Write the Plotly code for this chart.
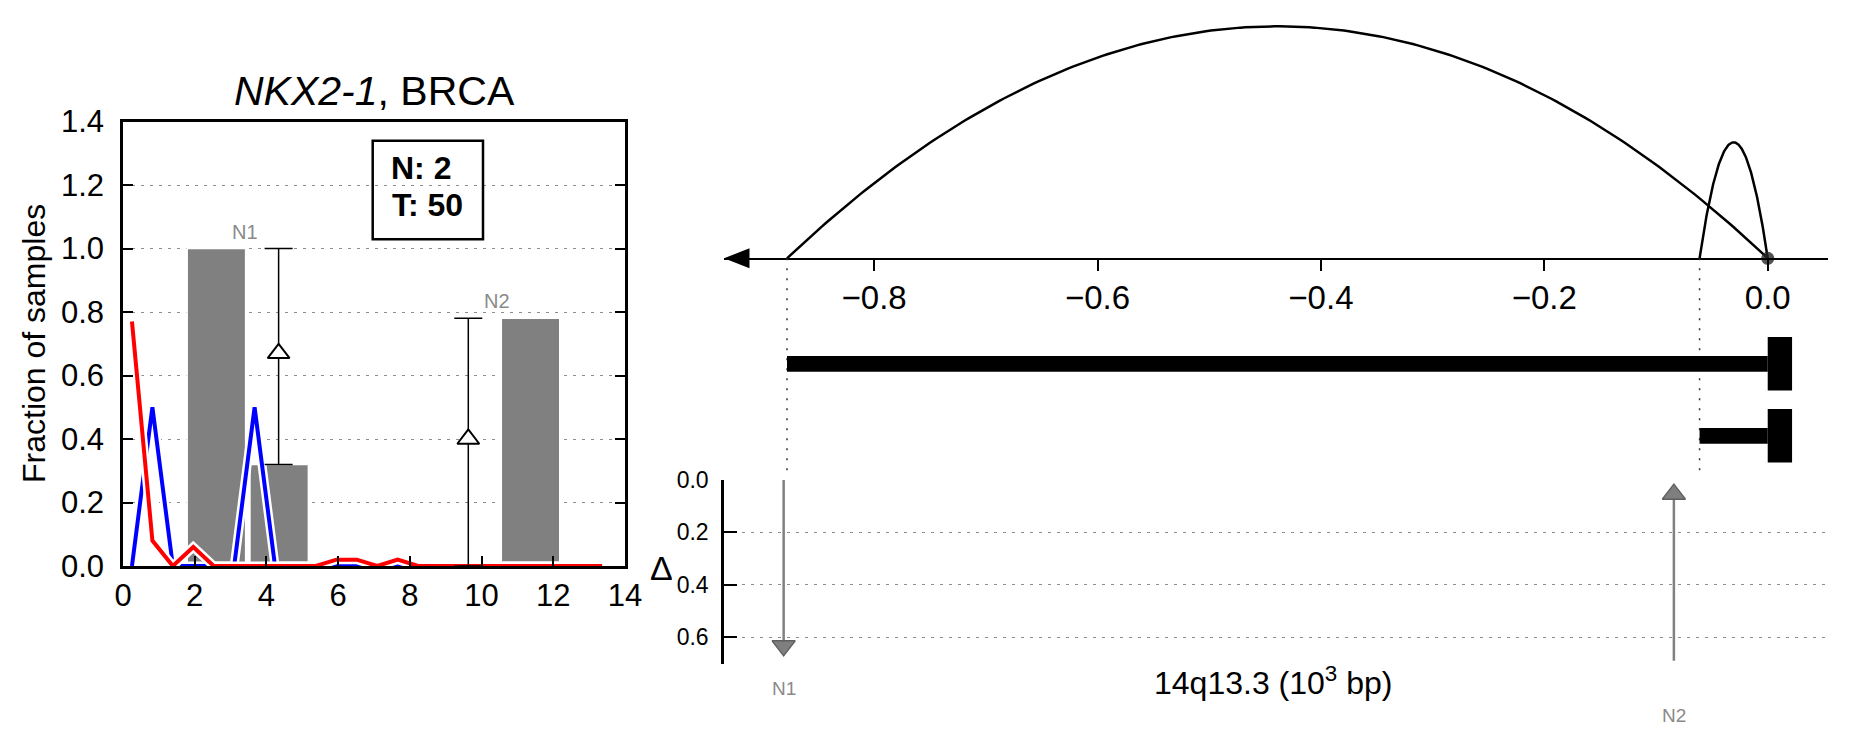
import numpy as np
import plotly.graph_objects as go

W, H = 1851, 745
FONT = "Liberation Sans, Arial, Helvetica, sans-serif"


def px(x):
    return x / W


def py(y):
    return 1 - y / H


# ---------------- data: left panel ----------------
bin_x = [0.25, 0.82, 1.39, 1.96, 2.53, 3.10, 3.67, 4.24, 4.81, 5.38, 5.95, 6.52,
         7.09, 7.66, 8.23, 8.80, 9.37, 9.94, 10.51, 11.08, 11.65, 12.22, 12.79, 13.36]
tumor_frac = [0.77, 0.08, 0.0, 0.06, 0.0, 0.0, 0.0, 0.0, 0.0, 0.0, 0.02, 0.02,
              0.0, 0.02, 0.0, 0.0, 0.0, 0.0, 0.0, 0.0, 0.0, 0.0, 0.0, 0.0]
normal_frac = [0.0, 0.5, 0.0, 0.0, 0.0, 0.0, 0.5, 0.0, 0.0, 0.0, 0.0, 0.0,
               0.0, 0.0, 0.0, 0.0, 0.0, 0.0, 0.0, 0.0, 0.0, 0.0, 0.0, 0.0]
bar_x = [2.605, 4.355, 11.365]
bar_h = [1.0, 0.32, 0.78]
bar_label_text = ["N1", "N2"]
bar_label_x = [3.40, 10.43]
bar_label_y = [1.053, 0.835]
delta_x = [4.34, 9.63]
delta_y = [0.67, 0.40]
delta_lo = [0.32, 0.0]
delta_hi = [1.0, 0.78]
n_normal = 2
n_tumor = 50
left_xticks = [0, 2, 4, 6, 8, 10, 12, 14]
left_yticks = [0.0, 0.2, 0.4, 0.6, 0.8, 1.0, 1.2, 1.4]

# ---------------- data: right panel ----------------
region_start = [-0.878, -0.061]
region_end = [0.0, 0.0]
arc_height = [1.0, 0.5]
pos_ticks = [-0.8, -0.6, -0.4, -0.2, 0.0]
arrow_text = ["N1", "N2"]
arrow_x = [-0.881, -0.084]
arrow_from = [0.0, 0.69]
arrow_tip = [0.687, 0.0]
arrow_label_px = [688, 715]
delta_ticks = [0.0, 0.2, 0.4, 0.6]

fig = go.Figure()

# ---- left panel ----
fig.add_trace(go.Bar(x=bar_x, y=bar_h, width=1.63, base=0,
                     marker=dict(color="#808080", line=dict(color="white", width=1.5)),
                     xaxis="x", yaxis="y", hoverinfo="skip"))
for vals, col in [(normal_frac, "#0000ff"), (tumor_frac, "#ff0000")]:
    fig.add_trace(go.Scatter(x=bin_x, y=vals, mode="lines",
                             line=dict(color="white", width=9), xaxis="x", yaxis="y"))
    fig.add_trace(go.Scatter(x=bin_x, y=vals, mode="lines",
                             line=dict(color=col, width=4), xaxis="x", yaxis="y"))
fig.add_trace(go.Scatter(
    x=delta_x, y=delta_y, mode="markers",
    marker=dict(symbol="triangle-up", size=19, color="white",
                line=dict(color="black", width=2)),
    error_y=dict(type="data", symmetric=False,
                 array=[h - d for h, d in zip(delta_hi, delta_y)],
                 arrayminus=[d - l for d, l in zip(delta_y, delta_lo)],
                 color="black", thickness=1.5, width=14),
    xaxis="x", yaxis="y", cliponaxis=False))

# ---- right panel: arcs ----
t = np.linspace(0, 1, 200)
for s, e, h in zip(region_start, region_end, arc_height):
    fig.add_trace(go.Scatter(x=s + (e - s) * t, y=4 * h * t * (1 - t), mode="lines",
                             line=dict(color="black", width=2.5),
                             xaxis="x2", yaxis="y2"))
fig.add_trace(go.Scatter(x=[region_end[0]], y=[0], mode="markers",
                         marker=dict(size=13, color="rgba(40,40,40,0.8)"),
                         xaxis="x2", yaxis="y2", cliponaxis=False))

# ---- right panel: tracks ----
row_top, row_bot = -1.4653, 1.6139
for s in region_start:
    fig.add_trace(go.Scatter(x=[s, s], y=[row_top, 1.503], mode="lines",
                             line=dict(color="#333333", width=1.5, dash="2px,8px"),
                             xaxis="x2", yaxis="y3"))
shapes = []
for i, (s, e) in enumerate(zip(region_start, region_end)):
    shapes.append(dict(type="rect", xref="x2", yref="y3", x0=s, x1=e,
                       y0=i - 0.109, y1=i + 0.109, fillcolor="black", line=dict(width=0)))
    shapes.append(dict(type="rect", xref="x2", yref="y3", x0=e, x1=e + 0.0218,
                       y0=i - 0.371, y1=i + 0.371, fillcolor="black", line=dict(width=0)))
# arrow head at left end of the position axis
shapes.append(dict(type="path", xref="paper", yref="paper",
                   path=f"M {px(724)} {py(258.3)} L {px(749.5)} {py(248.3)} L {px(749.5)} {py(268.3)} Z",
                   fillcolor="black", line=dict(width=0)))
# legend box on the left panel
shapes.append(dict(type="rect", xref="paper", yref="paper",
                   x0=px(372.7), x1=px(483), y0=py(140.7), y1=py(239.3),
                   line=dict(color="black", width=2.5), fillcolor="rgba(0,0,0,0)"))

# ---- right panel: delta arrows ----
head = 14.14 / 262.0
for i, (xx, f, tip) in enumerate(zip(arrow_x, arrow_from, arrow_tip)):
    down = tip > f
    hc = tip - head if down else tip + head
    fig.add_trace(go.Scatter(x=[xx, xx], y=[f, hc], mode="lines",
                             line=dict(color="#808080", width=2.5),
                             xaxis="x2", yaxis="y4"))
    fig.add_trace(go.Scatter(x=[xx], y=[hc], mode="markers",
                             marker=dict(symbol="triangle-down" if down else "triangle-up",
                                         size=20, color="#7f7f7f",
                                         line=dict(color="#5f5f5f", width=1.5)),
                             xaxis="x2", yaxis="y4", cliponaxis=False))

annotations = [
    dict(text="<i>NKX2-1</i>, BRCA", xref="paper", yref="paper", x=px(374), y=py(91),
         xanchor="center", yanchor="middle", showarrow=False,
         font=dict(family=FONT, size=41, color="black")),
    dict(text="Fraction of samples", xref="paper", yref="paper", x=px(34), y=py(344),
         xanchor="center", yanchor="middle", textangle=-90, showarrow=False,
         font=dict(family=FONT, size=32, color="black")),
    dict(text=f"<b>N: {n_normal}</b>", xref="paper", yref="paper",
         x=px(389), y=py(168), xanchor="left", yanchor="middle", align="left",
         showarrow=False, font=dict(family=FONT, size=32, color="black")),
    dict(text=f"<b>T: {n_tumor}</b>", xref="paper", yref="paper",
         x=px(390), y=py(205), xanchor="left", yanchor="middle", align="left",
         showarrow=False, font=dict(family=FONT, size=32, color="black")),
    dict(text="Δ", xref="paper", yref="paper", x=px(661), y=py(568),
         xanchor="center", yanchor="middle", showarrow=False,
         font=dict(family=FONT, size=34, color="black")),
    dict(text="14q13.3 (10<sup>3</sup> bp)", xref="paper", yref="paper", x=px(1272.5), y=py(681),
         xanchor="center", yanchor="middle", showarrow=False,
         font=dict(family=FONT, size=32, color="black")),
]
for txt, xx, yy in zip(bar_label_text, bar_label_x, bar_label_y):
    annotations.append(dict(text=txt, xref="x", yref="y", x=xx, y=yy, showarrow=False,
                            xanchor="center", yanchor="middle",
                            font=dict(family=FONT, size=20, color="#8a8a8a")))
for txt, xx, yy in zip(arrow_text, arrow_x, arrow_label_px):
    annotations.append(dict(text=txt, xref="x2", yref="paper", x=xx, y=py(yy), showarrow=False,
                            xanchor="center", yanchor="middle",
                            font=dict(family=FONT, size=19, color="#8a8a8a")))

fig.update_layout(
    width=W, height=H, margin=dict(l=0, r=0, t=0, b=0, pad=0, autoexpand=False),
    paper_bgcolor="white", plot_bgcolor="rgba(0,0,0,0)", showlegend=False,
    barmode="overlay", font=dict(family=FONT, color="black"),
    shapes=shapes, annotations=annotations,
    xaxis=dict(domain=[px(123), px(625)], range=[0, 14], tickvals=left_xticks,
               ticks="inside", ticklen=10, tickwidth=1.5, tickcolor="black",
               showline=True, linewidth=2.5, linecolor="black", mirror=True,
               showgrid=False, zeroline=False, anchor="y", automargin=False,
               tickfont=dict(family=FONT, size=31), ticklabelstandoff=0),
    yaxis=dict(domain=[py(566), py(121.5)], range=[0, 1.4], tickvals=left_yticks,
               tickformat=".1f", ticks="inside", ticklen=10, tickwidth=1.5, tickcolor="black",
               showline=True, linewidth=2.5, linecolor="black", mirror="ticks",
               showgrid=True, gridcolor="#8c8c8c", gridwidth=1, griddash="3px,6px",
               zeroline=False, anchor="x", automargin=False,
               tickfont=dict(family=FONT, size=31), ticklabelstandoff=10),
    xaxis2=dict(domain=[px(724), px(1827.7)], range=[-0.9344, 0.0537], tickvals=pos_ticks,
                tickformat=".1f", ticks="outside", ticklen=11, tickwidth=1.5, tickcolor="black",
                showline=True, linewidth=2, linecolor="black", showgrid=False, zeroline=False,
                anchor="y2", side="bottom", automargin=False,
                tickfont=dict(family=FONT, size=33), ticklabelstandoff=-2),
    yaxis2=dict(domain=[py(258.3), 1.0], range=[0, 1.1134], visible=False, anchor="x2",
                automargin=False),
    yaxis3=dict(domain=[py(480), py(258.3)], range=[row_bot, row_top], visible=False,
                anchor="x2", automargin=False),
    yaxis4=dict(domain=[py(664.3), py(480)], range=[0.7034, 0], tickvals=delta_ticks,
                tickformat=".1f", ticks="inside", ticklen=13, tickwidth=1.5, tickcolor="black",
                showline=True, linewidth=2.5, linecolor="black",
                showgrid=True, gridcolor="#8c8c8c", gridwidth=1, griddash="3px,6px",
                zeroline=False, anchor="x2", automargin=False,
                tickfont=dict(family=FONT, size=23), ticklabelstandoff=8),
)

fig.write_html("out.html", config={"displayModeBar": False},
               post_script="document.body.style.margin='0px';")
